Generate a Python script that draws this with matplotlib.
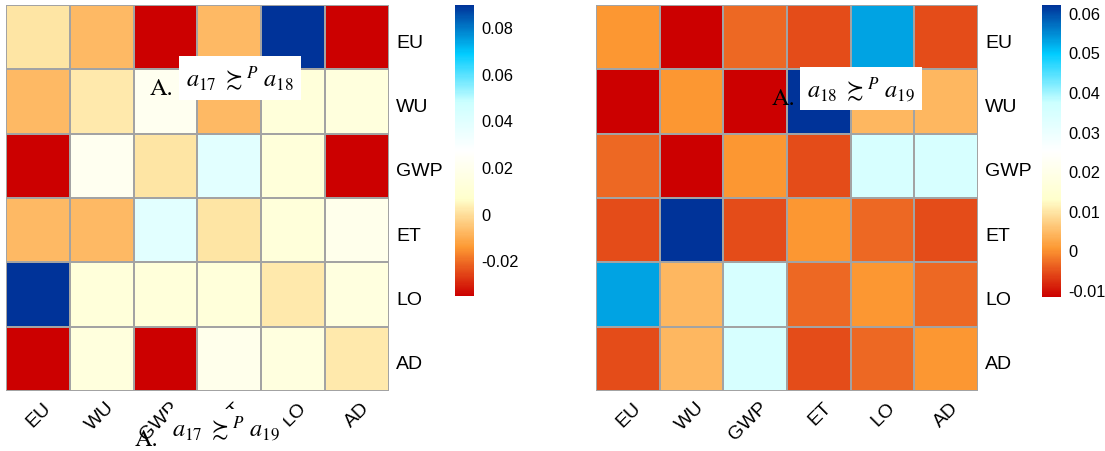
import numpy as np
import matplotlib
matplotlib.use("Agg")
import matplotlib.pyplot as plt
import matplotlib.transforms as mtransforms
from matplotlib.colors import LinearSegmentedColormap

plt.rcParams["font.family"] = ["Liberation Sans", "DejaVu Sans"]
plt.rcParams["mathtext.fontset"] = "stix"

# ── data ─────────────────────────────────────────────────────────────────────
criteria = ["EU", "WU", "GWP", "ET", "LO", "AD"]

# differences for a17 vs a18 (symmetric, rows top -> bottom)
diff_17_18 = [
    [0.001, -0.008, -0.0353, -0.008, 0.0894, -0.0353],
    [-0.008, 0.002, 0.021, -0.008, 0.012, 0.013],
    [-0.0353, 0.021, 0.001, 0.039, 0.012, -0.0353],
    [-0.008, -0.008, 0.039, 0.001, 0.012, 0.019],
    [0.0894, 0.012, 0.012, 0.012, 0.002, 0.014],
    [-0.0353, 0.013, -0.0353, 0.019, 0.014, 0.002],
]
ticks_17_18 = [-0.02, 0, 0.02, 0.04, 0.06, 0.08]

# differences for a18 vs a19
diff_18_19 = [
    [0.0005, -0.0118, -0.0033, -0.0057, 0.053, -0.0057],
    [-0.0118, 0.0005, -0.0118, 0.062, 0.0043, 0.0043],
    [-0.0033, -0.0118, 0.0005, -0.0057, 0.0347, 0.0347],
    [-0.0057, 0.062, -0.0057, 0.0005, -0.0033, -0.0057],
    [0.053, 0.0043, 0.0347, -0.0033, 0.0005, -0.0033],
    [-0.0057, 0.0043, 0.0347, -0.0057, -0.0033, 0.0005],
]
ticks_18_19 = [-0.01, 0, 0.01, 0.02, 0.03, 0.04, 0.05, 0.06]

cmap = LinearSegmentedColormap.from_list(
    "ramp",
    ["#CC0000", "#FD9933", "#FFFFCC", "#FFFFFF", "#CCFFFF", "#00CCFF", "#003399"],
    N=256,
)

W, H = 1105, 452
fig = plt.figure(figsize=(W / 100, H / 100), dpi=100)


def px_axes(x0, y0, x1, y1):
    return fig.add_axes([x0 / W, 1 - y1 / H, (x1 - x0) / W, (y1 - y0) / H])


def shift(dx, dy):
    # offset in pixels (figure is 100 dpi)
    return mtransforms.ScaledTranslation(dx / 100, dy / 100, fig.dpi_scale_trans)


def draw_heat(ax, cax, values, ticks):
    z = np.array(values)
    mesh = ax.pcolormesh(z, cmap=cmap, vmin=z.min(), vmax=z.max(),
                         edgecolors="#a3a3a3", linewidth=1.1)
    ax.set_xlim(0, len(criteria))
    ax.set_ylim(len(criteria), 0)
    for s in ax.spines.values():
        s.set_visible(False)
    ax.set_xticks(np.arange(len(criteria)) + 0.5)
    ax.set_yticks(np.arange(len(criteria)) + 0.5)
    ax.set_xticklabels(criteria, rotation=45, ha="right", va="top",
                       rotation_mode="anchor", fontsize=14)
    ax.set_yticklabels(criteria, fontsize=14)
    ax.yaxis.tick_right()
    ax.tick_params(length=0, pad=5)
    ax.tick_params(axis="x", pad=6)
    for lab in ax.get_xticklabels():
        lab.set_transform(lab.get_transform() + shift(4, 1))
    for lab in ax.get_yticklabels():
        lab.set_transform(lab.get_transform() + shift(0, -3))

    cb = fig.colorbar(mesh, cax=cax, ticks=ticks)
    cb.outline.set_visible(False)
    cb.ax.tick_params(length=0, labelsize=11.8, pad=5)
    cb.ax.set_yticklabels(["0" if t == 0 else f"{t:g}" for t in ticks])


ax1 = px_axes(6, 6, 389, 392)
cax1 = px_axes(455, 6, 474, 297)
draw_heat(ax1, cax1, diff_17_18, ticks_17_18)

ax2 = px_axes(596, 6, 978, 392)
cax2 = px_axes(1042, 6, 1061, 298)
draw_heat(ax2, cax2, diff_18_19, ticks_18_19)

# ── relation labels ──────────────────────────────────────────────────────────
box = dict(facecolor="white", edgecolor="none", boxstyle="square,pad=0.3")
serif = dict(family="STIXGeneral", fontsize=17.5, color="black")

fig.text(150 / W, 1 - 95 / H, "A.", va="baseline", **serif)
fig.text(186 / W, 1 - 87 / H, r"$a_{17}\ \succsim^{P}\ a_{18}$",
         va="baseline", bbox=box, **serif)

fig.text(772 / W, 1 - 105 / H, "A.", va="baseline", **serif)
fig.text(807 / W, 1 - 97 / H, r"$a_{18}\ \succsim^{P}\ a_{19}$",
         va="baseline", bbox=box, **serif)

fig.text(135 / W, 1 - 446 / H, "A.", va="baseline", **serif)
fig.text(172 / W, 1 - 436 / H, r"$a_{17}\ \succsim^{P}\ a_{19}$",
         va="baseline", bbox=dict(facecolor="white", edgecolor="none",
                                  boxstyle="square,pad=0.15"), **serif)

fig.savefig("out.png", dpi=100)
